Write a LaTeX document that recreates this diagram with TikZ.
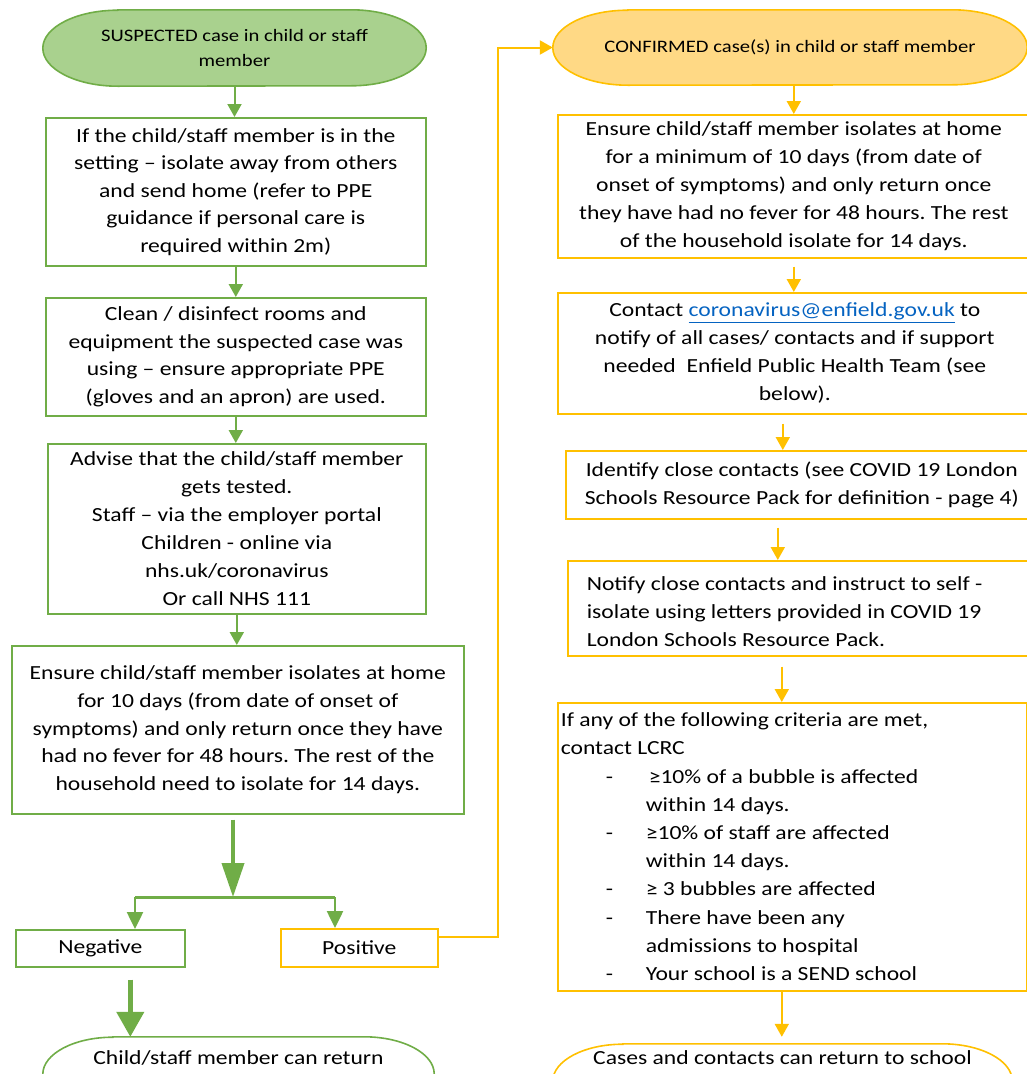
\documentclass[tikz,border=0pt]{standalone}
\usepackage{fontspec}
\setmainfont[FakeStretch=1.18]{Carlito}
\usetikzlibrary{arrows.meta,backgrounds,calc}
\definecolor{grn}{HTML}{70AD47}
\definecolor{grnfill}{HTML}{A9D18E}
\definecolor{yel}{HTML}{FFC000}
\definecolor{yelfill}{HTML}{FFD985}
\definecolor{lnk}{HTML}{0563C1}
\newcommand\mystadium[4]{%
  \begin{pgfonlayer}{background}
  \path[#2] ([xshift=#3]#1.north west) -- ([xshift=-#3]#1.north east)
     arc[start angle=90,end angle=-90,x radius=#3,y radius=#4]
     -- ([xshift=#3]#1.south west)
     arc[start angle=270,end angle=90,x radius=#3,y radius=#4] -- cycle;
  \end{pgfonlayer}}
\newcommand\crit{\hspace*{45pt}\makebox[40pt][l]{-}}
\newcommand\critc{\hspace*{85pt}}
\frenchspacing
\begin{document}
\begin{tikzpicture}[x=1pt,y=-1pt,
  box/.style={draw, line width=1.6pt, inner sep=0pt, align=center,
    font=\fontsize{20}{27.5}\selectfont, anchor=north west},
  gbox/.style={box, draw=grn},
  ybox/.style={box, draw=yel},
  ovtext/.style={inner sep=0pt, align=center, font=\fontsize{17.5}{25}\selectfont},
  rettext/.style={inner sep=0pt, align=center, font=\fontsize{20}{27}\selectfont, text height=15pt},
  arr/.style={line width=2pt, -{Triangle[width=14pt,length=13pt]}},
  garr/.style={arr, color=grn},
  yarr/.style={arr, color=yel},
  bigg/.style={line width=4pt, color=grn, -{Triangle[width=22pt,length=34pt]}},
  biggn/.style={line width=4.5pt, color=grn, -{Triangle[width=27pt,length=25pt]}},
]
\useasboundingbox (0,0) rectangle (1027,1074);

% ---------- left column ----------
\node[ovtext, minimum width=383pt, minimum height=76pt] (susp) at (234.5,48)
  {SUSPECTED case in child or staff\\member};
\mystadium{susp}{draw=grn, line width=1.6pt, fill=grnfill}{75pt}{38pt}

\node[gbox, minimum width=380pt, minimum height=148pt] (b1) at (45,117)
  {If the child/staff member is in the\\
   setting -- isolate away from others\\
   and send home (refer to PPE\\
   guidance if personal care is\\
   required within 2m)};

\node[gbox, minimum width=380pt, minimum height=118pt] (b2) at (45,297)
  {Clean / disinfect rooms and\\
   equipment the suspected case was\\
   using -- ensure appropriate PPE\\
   (gloves and an apron) are used.};

\node[gbox, minimum width=378pt, minimum height=170pt, font=\fontsize{20}{28}\selectfont] (b3) at (47,443)
  {Advise that the child/staff member\\
   gets tested.\\
   Staff -- via the employer portal\\
   Children - online via\\
   nhs.uk/coronavirus\\
   Or call NHS 111};

\node[gbox, minimum width=452pt, minimum height=168pt, font=\fontsize{20}{27.8}\selectfont] (b4) at (11,645)
  {Ensure child/staff member isolates at home\\
   for 10 days (from date of onset of\\
   symptoms) and only return once they have\\
   had no fever for 48 hours. The rest of the\\
   household need to isolate for 14 days.};

\node[gbox, minimum width=169pt, minimum height=37pt] (neg) at (15,929) {Negative};
\node[ybox, minimum width=157pt, minimum height=38pt] (pos) at (280,928) {Positive};

\node[rettext, minimum width=391pt, minimum height=74pt, text depth=35pt] (retL) at (238.5,1074)
  {Child/staff member can return};
\mystadium{retL}{draw=grn, line width=1.6pt, fill=white}{70pt}{37pt}

\coordinate (split) at (233,897);
\coordinate (splitL) at (135,897);
\coordinate (splitR) at (335,897);

\draw[garr] (susp.south) -- (susp.south |- b1.north);
\draw[garr] (b1.south) -- (b1.south |- b2.north);
\draw[garr] (b2.south) -- (b2.south |- b3.north);
\draw[garr] (b3.south) -- (b3.south |- b4.north);
\draw[bigg, shorten <=5pt] (b4.south -| split) -- (split);
\draw[line width=3pt, color=grn] (splitL) -- (splitR);
\draw[garr, line width=2.5pt, -{Triangle[width=16pt,length=17pt]}] (splitL) -- (splitL |- neg.north);
\draw[garr, line width=2.5pt, -{Triangle[width=16pt,length=17pt]}] (splitR) -- (splitR |- pos.north);
\draw[biggn, shorten <=12pt] ([xshift=30pt]neg.south) -- ([xshift=30pt]neg.south |- retL.north);

% ---------- right column ----------
\node[ovtext, minimum width=474pt, minimum height=75pt] (conf) at (790,47.5)
  {CONFIRMED case(s) in child or staff member};
\mystadium{conf}{draw=yel, line width=1.6pt, fill=yelfill}{75pt}{37.5pt}

\node[ybox, minimum width=472pt, minimum height=143pt, font=\fontsize{20}{28}\selectfont] (r1) at (557,114)
  {Ensure child/staff member isolates at home\\
   for a minimum of 10 days (from date of\\
   onset of symptoms) and only return once\\
   they have had no fever for 48 hours. The rest\\
   of the household isolate for 14 days.};

\node[ybox, minimum width=474pt, minimum height=121pt, font=\fontsize{20}{28}\selectfont] (r2) at (557,292)
  {Contact \textcolor{lnk}{\underline{coronavirus@enfield.gov.uk}} to\\
   notify of all cases/ contacts and if support\\
   needed\ \ Enfield Public Health Team (see\\
   below).};

\node[ybox, minimum width=472pt, minimum height=68pt, font=\fontsize{20}{28}\selectfont] (r3) at (565,450)
  {Identify close contacts (see COVID 19 London\\
   Schools Resource Pack for definition - page 4)};

\node[ybox, minimum width=470pt, minimum height=95pt, align=flush left, inner xsep=19pt,
      text width=432pt, font=\fontsize{20}{28}\selectfont] (r4) at (567,560)
  {\rule{0pt}{20pt}Notify close contacts and instruct to self -\\
   isolate using letters provided in COVID 19\\
   London Schools Resource Pack.};

\node[ybox, minimum width=469pt, minimum height=288pt, align=flush left, inner xsep=3pt,
      text width=463pt, font=\fontsize{20}{28.2}\selectfont] (r5) at (557,702)
  {If any of the following criteria are met,\\
   contact LCRC\\
   \crit\hspace{3pt}≥10\% of a bubble is affected\\
   \critc within 14 days.\\
   \crit ≥10\% of staff are affected\\
   \critc within 14 days.\\
   \crit ≥ 3 bubbles are affected\\
   \crit There have been any\\
   \critc admissions to hospital\\
   \crit Your school is a SEND school};

\node[rettext, minimum width=459pt, minimum height=74pt, text depth=49pt] (retR) at (782.5,1081)
  {Cases and contacts can return to school};
\mystadium{retR}{draw=yel, line width=1.6pt, fill=white}{70pt}{37pt}

\draw[yarr] (conf.south -| r1.north) -- (r1.north);
\draw[yarr, shorten <=8pt] (r1.south) -- (r1.south |- r2.north);
\draw[yarr, shorten <=9pt] ([xshift=-12pt]r2.south) -- ([xshift=-12pt]r2.south |- r3.north);
\draw[yarr, shorten <=8pt] ([xshift=-24pt]r3.south) -- ([xshift=-24pt]r3.south |- r4.north);
\draw[yarr, shorten <=10pt] ([xshift=-21pt]r4.south) -- ([xshift=-21pt]r4.south |- r5.north);
\draw[yarr, shorten >=7pt] ([xshift=-10.5pt]r5.south) -- ([xshift=-10.5pt]r5.south |- retR.north);

% Positive -> CONFIRMED
\draw[yarr] ([yshift=11pt]pos.east) -- ++(59,0) |- (conf.west);
\end{tikzpicture}
\end{document}
